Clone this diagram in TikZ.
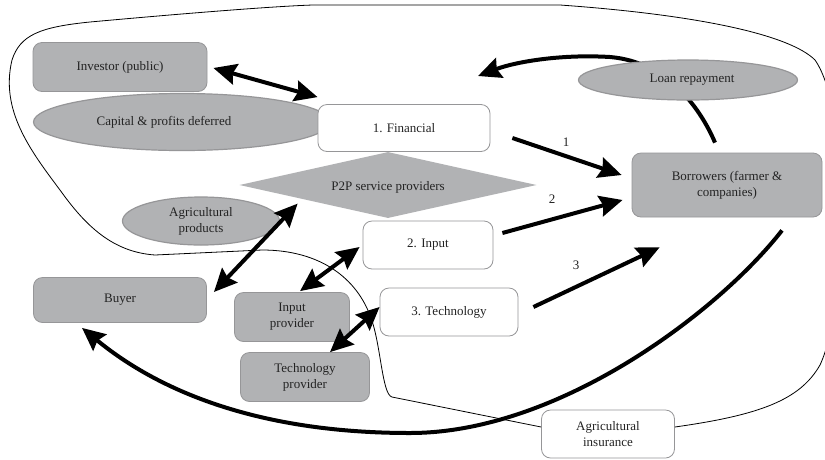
\documentclass[tikz,border=0pt]{standalone}
\usepackage{fontspec}
\setmainfont{Liberation Serif}
\usetikzlibrary{shapes.geometric,arrows.meta,calc}
\definecolor{boxgray}{RGB}{177,178,180}
\definecolor{edgegray}{RGB}{150,150,152}
\definecolor{txt}{RGB}{35,35,35}
\tikzset{
  every node/.style={font=\fontsize{13}{16}\selectfont, text=txt, align=center, inner sep=0pt},
  graybox/.style={rectangle, rounded corners=9pt, fill=boxgray, draw=edgegray, line width=0.8pt},
  whitebox/.style={rectangle, rounded corners=9pt, fill=white, draw=edgegray, line width=0.8pt},
  grayell/.style={ellipse, fill=boxgray, draw=edgegray, line width=1.2pt},
  bighead/.tip={Stealth[length=23pt,width=21pt,inset=3pt]},
  flow/.style={line width=4pt, -bighead},
  biflow/.style={line width=4pt, bighead-bighead},
  outline/.style={line width=0.8pt, black},
}
\begin{document}
\begin{tikzpicture}[x=1pt,y=-1pt]
\clip (0,0) rectangle (825,459);
\fill[white] (0,0) rectangle (825,459);

% nodes (back to front)
\node[grayell, minimum width=297, minimum height=57] (cap) at (182,122) {Capital \& profits deferred\hspace*{36pt}};
\node[diamond, aspect=4.5, fill=boxgray, draw=none, minimum width=297, minimum height=66] (p2p) at (388,185) {};
\node (p2pt) at (388,187) {P2P service providers};
\node[whitebox, minimum width=172, minimum height=47] (fin) at (404,128) {1. Financial};
\node[graybox, minimum width=174, minimum height=49] (inv) at (120,67) {Investor (public)};
\node[grayell, minimum width=157, minimum height=48] (agri) at (201,221) {Agricultural\\products};
\node[whitebox, minimum width=130, minimum height=48] (inp) at (428,245) {2. Input};
\node[whitebox, minimum width=138, minimum height=48] (tech) at (449,312) {3. Technology};
\node[graybox, minimum width=173, minimum height=45] (buyer) at (120,300) {Buyer};
\node[graybox, minimum width=115, minimum height=49] (inprov) at (292,317) {Input\\provider};
\node[graybox, minimum width=129, minimum height=49] (techprov) at (305,377) {Technology\\provider};
\node[graybox, minimum width=190, minimum height=64] (bor) at (727,185) {Borrowers (farmer \&\\companies)};
\coordinate (loanend) at (478,76);

% loan repayment arrow (behind its ellipse)
\draw[flow] ($(bor.north)+(-12,-10)$) .. controls (702,112) and (670,62) .. (610,57) .. controls (560,54) and (515,62) .. (loanend);
\node[grayell, minimum width=219, minimum height=40] (loan) at (688,80) {\hspace*{8pt}Loan repayment};

% insurance box and outer boundary
\node[whitebox, minimum width=133, minimum height=48] (ins) at (608,434) {Agricultural\\insurance};
\draw[outline] ($(ins.west)+(0,-7)$) -- (392,397) .. controls (382,394.5) and (381,345) .. (371,318)
  .. controls (357,278) and (320,250) .. (262,250) -- (155,255)
  .. controls (112,252) and (85,225) .. (60,190)
  .. controls (30,150) and (0,110) .. (12,60)
  .. controls (20,35) and (40,27) .. (90,22)
  .. controls (200,12) and (280,6) .. (313,5) -- (560,5)
  .. controls (700,15) and (790,35) .. (815,60)
  .. controls (850,110) and (850,300) .. (820,365)
  .. controls (800,400) and (760,415) .. ($(ins.east)+(0,-7)$);

% arrows
\draw[biflow] ($(inv.east)+(6,1)$) -- ($(fin.north west)+(0,-7)$);
\draw[flow] ($(fin.east)+(22,10)$) -- ($(bor.west)+(-10,-10)$);
\draw[flow] ($(inp.east)+(9,-12)$) -- ($(bor.west)+(-9,15)$);
\draw[flow] ($(tech.east)+(15,-5)$) -- ($(bor.south west)+(28,30)$);
\draw[flow] ($(bor.south)+(55,13)$) .. controls (720,310) and (560,433) .. (410,433)
  .. controls (260,433) and (160,392) .. ($(buyer.south)+(-38,5)$);
\draw[biflow] ($(buyer.east)+(7,-8)$) -- ($(p2p.south west)+(-16,2)$);
\draw[biflow] ($(inprov.north)+(8,-1)$) -- ($(inp.west)+(-3,2)$);
\draw[biflow] ($(techprov.north)+(25,0)$) -- ($(tech.west)+(0,-5)$);

% labels
\node (l1) at (566,142) {1};
\node (l2) at (552,199) {2};
\node (l3) at (576,265) {3};
\end{tikzpicture}
\end{document}
